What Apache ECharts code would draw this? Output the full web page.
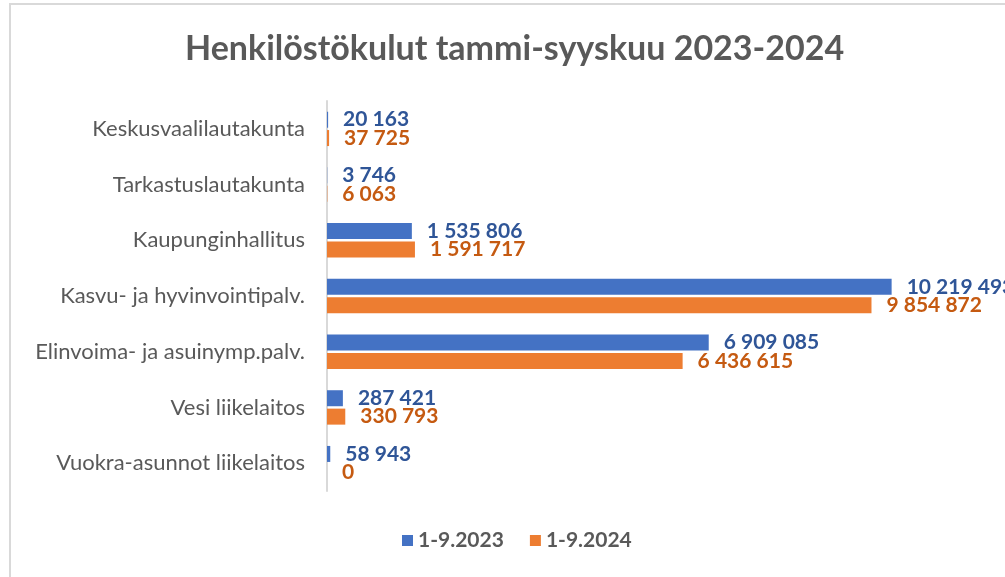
<!DOCTYPE html>
<html><head><meta charset="utf-8">
<script src="https://cdn.jsdelivr.net/npm/echarts@6/dist/echarts.min.js"></script>
<style>html,body{margin:0;padding:0;background:#fff}#c{width:1005px;height:577px}</style>
</head><body><div id="c"></div>
<script>
const categories = ["Keskusvaalilautakunta","Tarkastuslautakunta","Kaupunginhallitus","Kasvu- ja hyvinvointipalv.","Elinvoima- ja asuinymp.palv.","Vesi liikelaitos","Vuokra-asunnot liikelaitos"];
const series2023 = [20163, 3746, 1535806, 10219493, 6909085, 287421, 58943];
const series2024 = [37725, 6063, 1591717, 9854872, 6436615, 330793, 0];
const seriesNames = ["1-9.2023","1-9.2024"];
const FONT = "Lato";
function fmt(v){return String(v).replace(/\B(?=(\d{3})+(?!\d))/g,' ');}
const chart = echarts.init(document.getElementById('c'));
chart.setOption({
  animation:false,
  backgroundColor:'#fff',
  graphic:[{type:'rect',shape:{x:10,y:4,width:1100,height:700},style:{fill:'none',stroke:'#d9d9d9',lineWidth:2},silent:true}],
  title:{text:'Henkilöstökulut tammi-syyskuu 2023-2024',left:180,top:27,textStyle:{fontFamily:FONT,fontSize:34,fontWeight:'bold',color:'#595959'}},
  legend:{bottom:21,left:397,itemWidth:11,itemHeight:11,itemGap:26,icon:'rect',textStyle:{fontFamily:FONT,fontSize:21,fontWeight:'bold',color:'#595959'},data:seriesNames},
  grid:{left:327,top:101,bottom:86,right:15,containLabel:false},
  xAxis:{type:'value',min:0,max:12000000,show:false},
  yAxis:{type:'category',data:categories,inverse:true,axisLine:{lineStyle:{color:'#d9d9d9',width:2}},axisTick:{show:false},axisLabel:{fontFamily:FONT,fontSize:22,color:'#595959',margin:22}},
  series:[
    {name:seriesNames[0],type:'bar',data:series2023,barWidth:16,barGap:'15%',itemStyle:{color:'#4472C4'},
     label:{show:true,position:'right',distance:15,formatter:p=>fmt(p.value),fontFamily:FONT,fontSize:21,fontWeight:'bold',color:'#2F5597'}},
    {name:seriesNames[1],type:'bar',data:series2024,barWidth:16,itemStyle:{color:'#ED7D31'},
     label:{show:true,position:'right',distance:15,formatter:p=>fmt(p.value),fontFamily:FONT,fontSize:21,fontWeight:'bold',color:'#C55A11'}}
  ]
});
</script></body></html>
